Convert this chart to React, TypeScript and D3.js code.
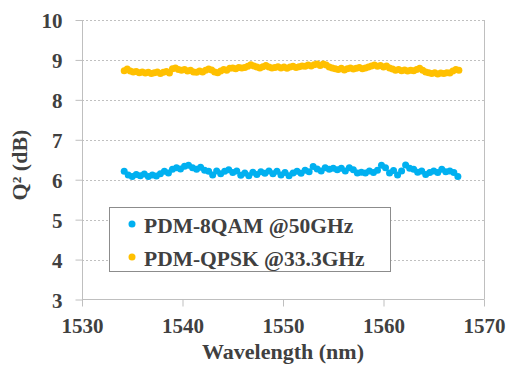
import { useEffect, useRef } from "react"
import * as d3 from "d3"

const xTicks = [1530, 1540, 1550, 1560, 1570]
const yTicks = [3, 4, 5, 6, 7, 8, 9, 10]

// PDM-8QAM @50GHz
const qamWl = [
  1534.2, 1534.6, 1535.0, 1535.4, 1535.8, 1536.2, 1536.6, 1537.0, 1537.4, 1537.8,
  1538.2, 1538.6, 1539.0, 1539.4, 1539.8, 1540.2, 1540.6, 1541.0, 1541.4, 1541.8,
  1542.2, 1542.6, 1543.0, 1543.4, 1543.8, 1544.2, 1544.6, 1545.0, 1545.4, 1545.8,
  1546.2, 1546.6, 1547.0, 1547.4, 1547.8, 1548.2, 1548.6, 1549.0, 1549.4, 1549.8,
  1550.2, 1550.6, 1551.0, 1551.4, 1551.8, 1552.2, 1552.6, 1553.0, 1553.4, 1553.8,
  1554.2, 1554.6, 1555.0, 1555.4, 1555.8, 1556.2, 1556.6, 1557.0, 1557.4, 1557.8,
  1558.2, 1558.6, 1559.0, 1559.4, 1559.8, 1560.2, 1560.6, 1561.0, 1561.4, 1561.8,
  1562.2, 1562.6, 1563.0, 1563.4, 1563.8, 1564.2, 1564.6, 1565.0, 1565.4, 1565.8,
  1566.2, 1566.6, 1567.0, 1567.4,
]
const qamQ = [
  6.21, 6.12, 6.08, 6.13, 6.1, 6.14, 6.08, 6.12, 6.09, 6.15,
  6.21, 6.17, 6.26, 6.3, 6.27, 6.34, 6.36, 6.3, 6.26, 6.31,
  6.24, 6.21, 6.12, 6.22, 6.15, 6.21, 6.25, 6.18, 6.22, 6.11,
  6.17, 6.1, 6.19, 6.13, 6.2, 6.16, 6.22, 6.15, 6.21, 6.12,
  6.18, 6.1, 6.17, 6.21, 6.16, 6.24, 6.2, 6.33, 6.27, 6.22,
  6.3, 6.26, 6.29, 6.25, 6.29, 6.22, 6.3, 6.25, 6.17, 6.19,
  6.17, 6.22, 6.18, 6.24, 6.36, 6.3, 6.17, 6.23, 6.12, 6.22,
  6.37, 6.29, 6.26, 6.19, 6.22, 6.13, 6.18, 6.22, 6.18, 6.26,
  6.2, 6.22, 6.18, 6.08,
]

// PDM-QPSK @33.3GHz
const qpskWl = [
  1534.2, 1534.5, 1534.8, 1535.1, 1535.4, 1535.7, 1536.0, 1536.3, 1536.6, 1536.9,
  1537.2, 1537.5, 1537.8, 1538.1, 1538.4, 1538.7, 1539.0, 1539.3, 1539.6, 1539.9,
  1540.2, 1540.5, 1540.8, 1541.1, 1541.4, 1541.7, 1542.0, 1542.3, 1542.6, 1542.9,
  1543.2, 1543.5, 1543.8, 1544.1, 1544.4, 1544.7, 1545.0, 1545.3, 1545.6, 1545.9,
  1546.2, 1546.5, 1546.8, 1547.1, 1547.4, 1547.7, 1548.0, 1548.3, 1548.6, 1548.9,
  1549.2, 1549.5, 1549.8, 1550.1, 1550.4, 1550.7, 1551.0, 1551.3, 1551.6, 1551.9,
  1552.2, 1552.5, 1552.8, 1553.1, 1553.4, 1553.7, 1554.0, 1554.3, 1554.6, 1554.9,
  1555.2, 1555.5, 1555.8, 1556.1, 1556.4, 1556.7, 1557.0, 1557.3, 1557.6, 1557.9,
  1558.2, 1558.5, 1558.8, 1559.1, 1559.4, 1559.7, 1560.0, 1560.3, 1560.6, 1560.9,
  1561.2, 1561.5, 1561.8, 1562.1, 1562.4, 1562.7, 1563.0, 1563.3, 1563.6, 1563.9,
  1564.2, 1564.5, 1564.8, 1565.1, 1565.4, 1565.7, 1566.0, 1566.3, 1566.6, 1566.9,
  1567.2, 1567.5,
]
const qpskQ = [
  8.73, 8.77, 8.72, 8.7, 8.71, 8.68, 8.7, 8.67, 8.69, 8.66,
  8.68, 8.7, 8.66, 8.69, 8.71, 8.67, 8.78, 8.8, 8.76, 8.74,
  8.76, 8.72, 8.74, 8.7, 8.69, 8.72, 8.7, 8.74, 8.77, 8.75,
  8.7, 8.68, 8.72, 8.76, 8.74, 8.79, 8.8, 8.78, 8.81, 8.8,
  8.81, 8.84, 8.88, 8.85, 8.82, 8.8, 8.83, 8.86, 8.82, 8.8,
  8.81, 8.83, 8.8, 8.82, 8.79, 8.82, 8.84, 8.81, 8.83, 8.85,
  8.84, 8.87, 8.85, 8.88, 8.9, 8.86, 8.9, 8.87, 8.82, 8.8,
  8.78, 8.76, 8.79, 8.75, 8.78, 8.8, 8.77, 8.79, 8.81, 8.78,
  8.8, 8.82, 8.85, 8.87, 8.84, 8.86, 8.82, 8.85, 8.8, 8.77,
  8.74, 8.76, 8.73, 8.75, 8.72, 8.74, 8.73, 8.76, 8.79, 8.74,
  8.7, 8.68, 8.66, 8.68, 8.65, 8.67, 8.66, 8.68, 8.67, 8.72,
  8.76, 8.74,
]

const series = [
  { name: "PDM-8QAM @50GHz", wl: qamWl, q: qamQ, color: "#00B0F0" },
  { name: "PDM-QPSK @33.3GHz", wl: qpskWl, q: qpskQ, color: "#FFC000" },
]

const FONT = "'Liberation Serif', 'Times New Roman', serif"

export default function App() {
  const ref = useRef<SVGSVGElement>(null)

  useEffect(() => {
    if (!ref.current) return
    const svg = d3.select(ref.current)
    svg.selectAll("*").remove()

    const W = 509
    const H = 365
    const textColor = "#404040"

    const x = d3.scaleLinear().domain([1530, 1570]).range([82, 484])
    const y = d3.scaleLinear().domain([3, 10]).range([299.5, 20])

    svg.attr("width", W).attr("height", H).attr("viewBox", `0 0 ${W} ${H}`)

    // Gridlines
    svg.append("g")
      .selectAll("line")
      .data(yTicks.filter((d) => d > 3))
      .join("line")
      .attr("x1", 82)
      .attr("x2", 484)
      .attr("y1", (d) => Math.round(y(d)) + 0.5)
      .attr("y2", (d) => Math.round(y(d)) + 0.5)
      .attr("stroke", "#c0c0c0")
      .attr("stroke-dasharray", "2,2")

    // Y axis
    const gy = svg.append("g").attr("transform", "translate(82.5,0)")
    gy.call(d3.axisLeft(y).tickValues(yTicks).tickSize(7).tickPadding(13).tickFormat(d3.format("d")))
    gy.attr("font-family", null).attr("font-size", null)
    gy.select(".domain").attr("stroke", "#bfbfbf").attr("d", `M0,${y(3)}V${y(10)}`)
    gy.selectAll(".tick line").attr("stroke", "#bfbfbf")
    gy.selectAll(".tick text")
      .attr("fill", textColor)
      .attr("dy", "0.38em")
      .style("font-family", FONT)
      .style("font-weight", "bold")
      .style("font-size", "21px")

    // X axis
    const gx = svg.append("g").attr("transform", "translate(0,299.5)")
    gx.call(d3.axisBottom(x).tickValues(xTicks).tickSize(7).tickPadding(12).tickFormat(d3.format("d")))
    gx.attr("font-family", null).attr("font-size", null)
    gx.select(".domain").attr("stroke", "#bfbfbf").attr("d", `M${x(1530)},0H${x(1570)}`)
    gx.selectAll(".tick line").attr("stroke", "#bfbfbf")
    gx.selectAll(".tick text")
      .attr("fill", textColor)
      .style("font-family", FONT)
      .style("font-weight", "bold")
      .style("font-size", "21px")

    // right border
    svg.append("line")
      .attr("x1", Math.round(x(1570)) + 0.5)
      .attr("x2", Math.round(x(1570)) + 0.5)
      .attr("y1", y(10))
      .attr("y2", y(3))
      .attr("stroke", "#bfbfbf")

    // Data points
    series.forEach((s) => {
      svg.append("g")
        .selectAll("circle")
        .data(s.wl.map((w, i) => [w, s.q[i]]))
        .join("circle")
        .attr("cx", (d) => x(d[0]))
        .attr("cy", (d) => y(d[1]))
        .attr("r", 3.5)
        .attr("fill", s.color)
    })

    // Axis titles
    svg.append("text")
      .attr("x", 283)
      .attr("y", 359)
      .attr("text-anchor", "middle")
      .attr("fill", textColor)
      .style("font-family", FONT)
      .style("font-weight", "bold")
      .style("font-size", "22px")
      .text("Wavelength (nm)")

    svg.append("text")
      .attr("transform", "translate(27,165) rotate(-90)")
      .attr("text-anchor", "middle")
      .attr("fill", textColor)
      .style("font-family", FONT)
      .style("font-weight", "bold")
      .style("font-size", "22px")
      .text("Q² (dB)")

    // Legend
    const lg = svg.append("g")
    lg.append("rect")
      .attr("x", 109.5)
      .attr("y", 207.5)
      .attr("width", 281)
      .attr("height", 64)
      .attr("fill", "#fff")
      .attr("stroke", "#8c8c8c")
    series.forEach((s, i) => {
      const cy = 224 + i * 33
      lg.append("circle").attr("cx", 132).attr("cy", cy).attr("r", 3.5).attr("fill", s.color)
      lg.append("text")
        .attr("x", 144)
        .attr("y", cy + 9)
        .attr("fill", textColor)
        .style("font-family", FONT)
        .style("font-weight", "bold")
        .style("font-size", "21.5px")
        .text(s.name)
    })
  }, [])

  return <svg ref={ref} style={{ position: "absolute", left: 0, top: 0 }} />
}
